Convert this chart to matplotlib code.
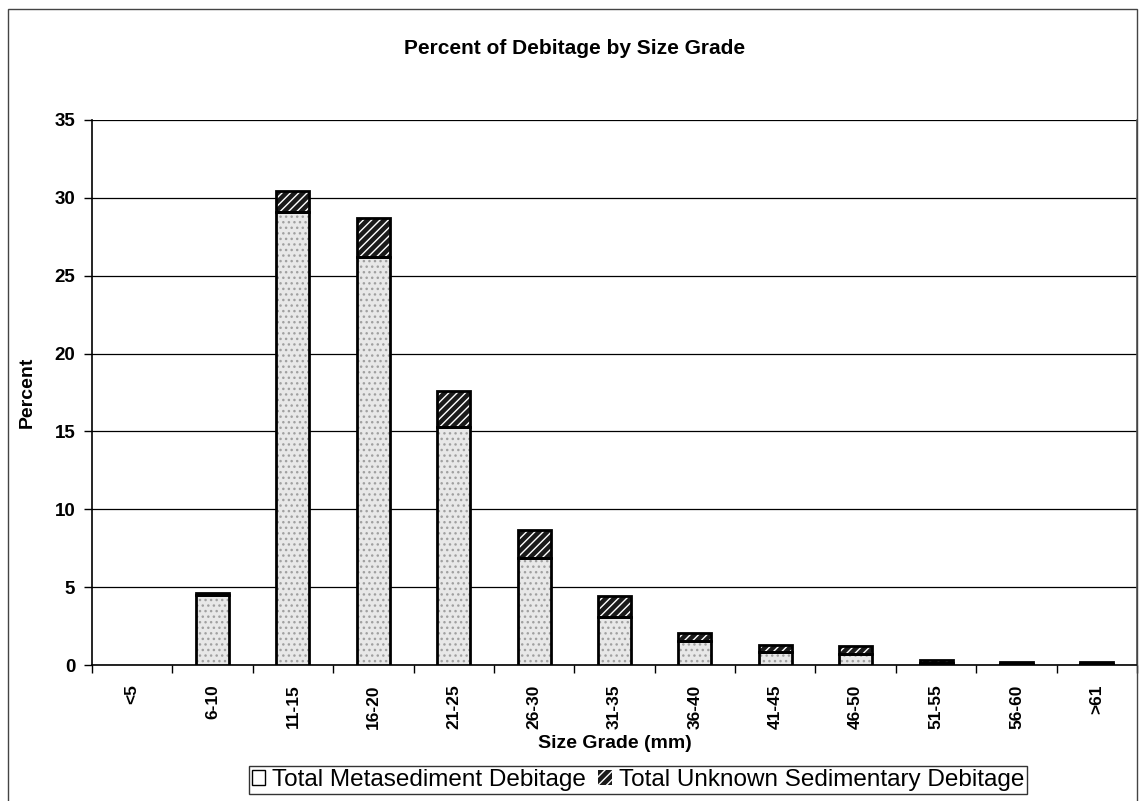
import numpy as np
import matplotlib.pyplot as plt
from matplotlib.patches import Rectangle, Patch

plt.rcParams['font.family'] = ['Liberation Sans', 'DejaVu Sans']

grades = ['<5', '6-10', '11-15', '16-20', '21-25', '26-30', '31-35',
          '36-40', '41-45', '46-50', '51-55', '56-60', '>61']
metased = [0, 4.5, 29.1, 26.2, 15.3, 6.9, 3.1, 1.55, 0.85, 0.7, 0.1, 0.05, 0.05]
unknown = [0, 0.15, 1.35, 2.5, 2.3, 1.8, 1.3, 0.5, 0.45, 0.55, 0.2, 0.15, 0.15]

fig = plt.figure(figsize=(11.46, 8.01), dpi=100)
ax = fig.add_axes([92 / 1146, 1 - 665 / 801, 1045 / 1146, 545 / 801])

x = np.arange(len(grades))
w = 0.41
metased = np.array(metased)
unknown = np.array(unknown)
lw_m = np.where(metased > 0, 2, 0)
lw_u = np.where(unknown > 0, 2, 0)

# stippled light bars
ax.bar(x, metased, w, color='#e8e8e8', edgecolor='#a0a0a0', hatch='...',
       linewidth=0, zorder=3)
ax.bar(x, metased, w, color='none', edgecolor='black', linewidth=lw_m, zorder=4)
# dark hatched bars on top
ax.bar(x, unknown, w, bottom=metased, color='#1a1a1a', edgecolor='white',
       hatch='////', linewidth=0, zorder=3)
ax.bar(x, unknown, w, bottom=metased, color='none', edgecolor='black',
       linewidth=lw_u, zorder=4)

ax.set_xlim(-0.5, len(grades) - 0.5)
ax.set_ylim(0, 35)
ax.set_yticks(np.arange(0, 36, 5))
ax.yaxis.grid(True, color='black', linewidth=0.9)
ax.set_axisbelow(True)

ax.set_xticks(x)
ax.set_xticklabels(grades, rotation=90, fontsize=12.5, fontweight='bold')
ax.set_xticks(np.arange(-0.5, len(grades), 1), minor=True)
ax.tick_params(axis='x', which='major', length=0, pad=14)
ax.tick_params(axis='x', which='minor', length=6, direction='out', width=1)
ax.tick_params(axis='y', length=6, width=1, labelsize=13.5, pad=6)
for lab in ax.get_yticklabels():
    lab.set_fontweight('bold')

for s in ['left', 'bottom', 'right']:
    ax.spines[s].set_linewidth(1.2)
ax.spines['top'].set_visible(False)
ax.spines['right'].set_color('#555555')

ax.set_xlabel('Size Grade (mm)', fontsize=14, fontweight='bold', labelpad=4)
ax.set_ylabel('Percent', fontsize=14, fontweight='bold')
ax.yaxis.set_label_coords((36 - 92) / 1045, 0.5)
fig.text(0.5015, 1 - 48 / 801, 'Percent of Debitage by Size Grade',
         ha='center', va='center', fontsize=15, fontweight='bold')

# outer chart frame
fig.add_artist(Rectangle((8 / 1146, -0.01), 1129 / 1146, 1 - 9 / 801 + 0.01,
                         transform=fig.transFigure, fill=False,
                         edgecolor='#444444', linewidth=1))

handles = [Patch(facecolor='white', edgecolor='black', linewidth=1),
           Patch(facecolor='#1a1a1a', edgecolor='white', hatch='////', linewidth=0)]
leg = fig.legend(handles, ['Total Metasediment Debitage',
                           'Total Unknown Sedimentary Debitage'],
                 loc='center', bbox_to_anchor=(638 / 1146, 1 - 780 / 801),
                 ncol=2, fontsize=17.5, frameon=True, fancybox=False,
                 handlelength=0.55, handleheight=0.55, handletextpad=0.3,
                 columnspacing=0.5, borderpad=0.12, borderaxespad=0)
leg.get_frame().set_edgecolor('black')
leg.get_frame().set_linewidth(1)

fig.savefig('out.png', dpi=100)
